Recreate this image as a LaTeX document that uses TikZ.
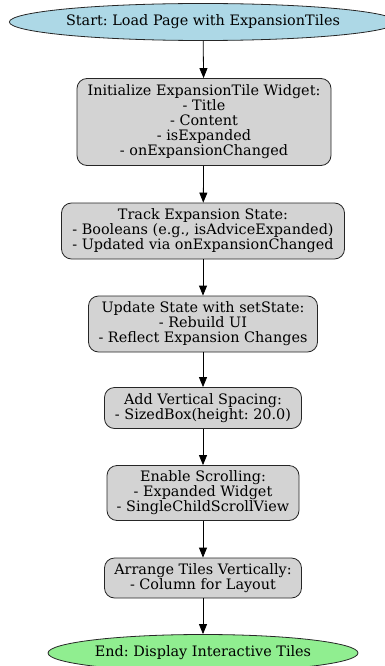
\documentclass[tikz,border=0pt]{standalone}
\usepackage{fontspec}
\setmainfont{DejaVu Serif}
\usetikzlibrary{shapes.geometric,arrows.meta}
\definecolor{startblue}{HTML}{ADD8E6}
\definecolor{boxgray}{HTML}{D3D3D3}
\definecolor{endgreen}{HTML}{90EE90}
\frenchspacing
\tikzset{
  base/.style={draw=black!85, line width=0.8pt, font=\fontsize{14.4}{15}\selectfont\frenchspacing, align=center, inner sep=0pt},
  stepbox/.style={base, rectangle, rounded corners=10pt, fill=boxgray},
  startnode/.style={base, ellipse, fill=startblue},
  endnode/.style={base, ellipse, fill=endgreen},
  flow/.style={-{Triangle[length=10pt,width=8pt]}, line width=0.8pt, black}
}
\begin{document}
\begin{tikzpicture}[x=1pt,y=-1pt]
\useasboundingbox (0,0) rectangle (385,666);
\node[startnode, minimum width=386, minimum height=37] (start) at (203,22) {Start: Load Page with ExpansionTiles};
\node[stepbox, minimum width=254, minimum height=87] (init) at (204,122) {Initialize ExpansionTile Widget:\\- Title\\- Content\\- isExpanded\\- onExpansionChanged};
\node[stepbox, minimum width=283, minimum height=56] (track) at (203,231) {Track Expansion State:\\- Booleans (e.g., isAdviceExpanded)\\- Updated via onExpansionChanged};
\node[stepbox, minimum width=229, minimum height=56] (update) at (203,324) {Update State with setState:\\- Rebuild UI\\- Reflect Expansion Changes};
\node[stepbox, minimum width=197, minimum height=41] (spacing) at (203,408) {Add Vertical Spacing:\\- SizedBox(height: 20.0)};
\node[stepbox, minimum width=192, minimum height=55] (scroll) at (203,493) {Enable Scrolling:\\- Expanded Widget\\- SingleChildScrollView};
\node[stepbox, minimum width=197, minimum height=40] (arrange) at (203,578) {Arrange Tiles Vertically:\\- Column for Layout};
\node[endnode, minimum width=310, minimum height=37] (end) at (203,653) {End: Display Interactive Tiles};
\draw[flow] (start) -- (init);
\draw[flow] (init) -- (track);
\draw[flow] (track) -- (update);
\draw[flow] (update) -- (spacing);
\draw[flow] (spacing) -- (scroll);
\draw[flow] (scroll) -- (arrange);
\draw[flow] (arrange) -- (end);
\end{tikzpicture}
\end{document}
